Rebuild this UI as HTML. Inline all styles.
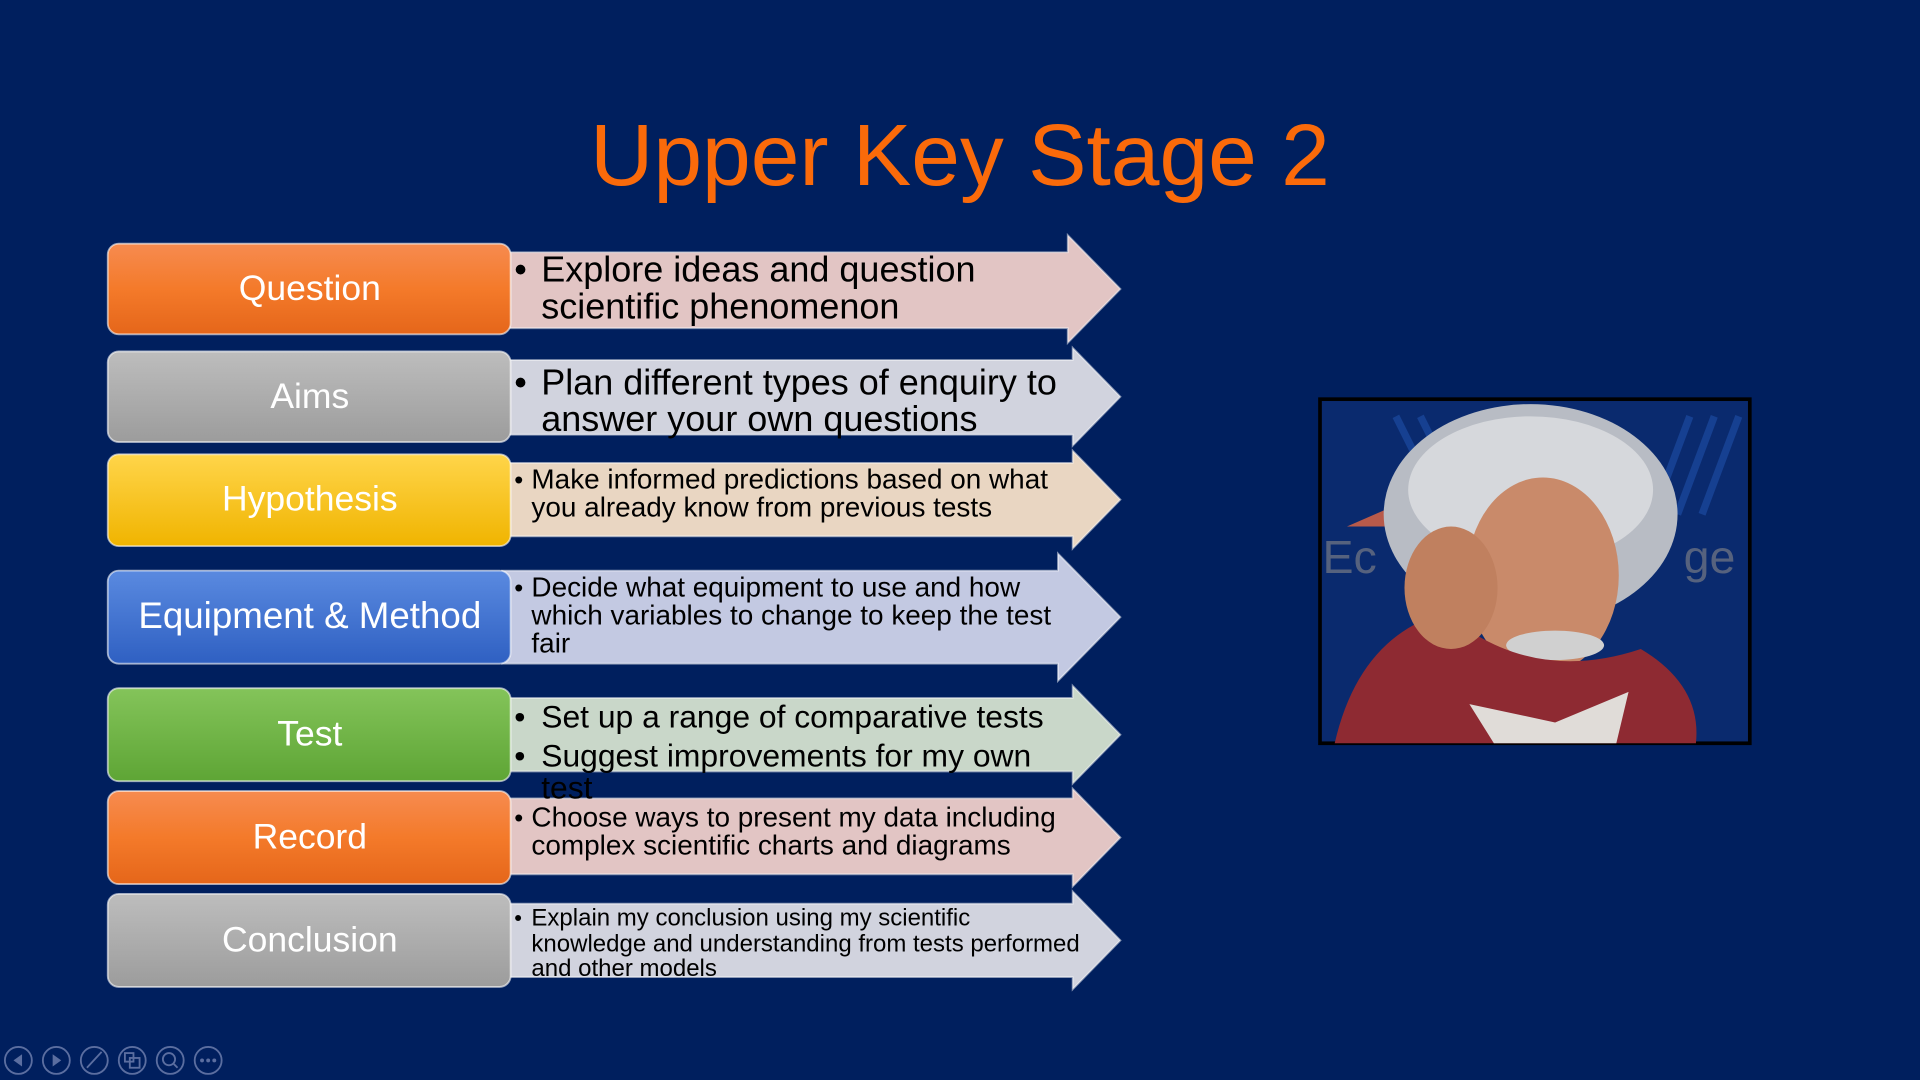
<!DOCTYPE html>
<html><head><meta charset="utf-8"><style>
html,body{margin:0;padding:0;background:#001f5e;overflow:hidden}
svg{display:block}
text{font-family:"Liberation Sans",Arial,sans-serif}
</style></head><body>
<svg width="1920" height="1080" viewBox="0 0 1568 882" xmlns="http://www.w3.org/2000/svg">
<defs>
<linearGradient id="go" x1="0" y1="0" x2="0" y2="1"><stop offset="0" stop-color="#f68b50"/><stop offset="0.5" stop-color="#f47a2a"/><stop offset="1" stop-color="#e5661a"/></linearGradient>
<linearGradient id="gg" x1="0" y1="0" x2="0" y2="1"><stop offset="0" stop-color="#bdbdbd"/><stop offset="1" stop-color="#9c9c9c"/></linearGradient>
<linearGradient id="gy" x1="0" y1="0" x2="0" y2="1"><stop offset="0" stop-color="#ffd54a"/><stop offset="1" stop-color="#f0b400"/></linearGradient>
<linearGradient id="gb" x1="0" y1="0" x2="0" y2="1"><stop offset="0" stop-color="#5a8ae0"/><stop offset="1" stop-color="#2f60c2"/></linearGradient>
<linearGradient id="gn" x1="0" y1="0" x2="0" y2="1"><stop offset="0" stop-color="#84c45a"/><stop offset="1" stop-color="#5ea535"/></linearGradient>
</defs>
<rect width="1568" height="882" fill="#001f5e"/>
<text x="784" y="151" text-anchor="middle" font-size="71.5" fill="#fa6a0a">Upper Key Stage 2</text>

<g stroke="#ffffff" stroke-opacity="0.5" stroke-width="1.5">
<polygon points="410,206 872,206 872,192 915,236 872,280 872,268 410,268" fill="#e2c5c4"/>
<polygon points="410,294 876,294 876,284 915,324 876,364 876,355 410,355" fill="#d1d3de"/>
<polygon points="410,378 876,378 876,368 915,408 876,448 876,438 410,438" fill="#e9d6c2"/>
<polygon points="410,466 864,466 864,452 915,504 864,556 864,542 410,542" fill="#c3c9e2"/>
<polygon points="410,570 876,570 876,560 915,600 876,640 876,630 410,630" fill="#c9d7c9"/>
<polygon points="410,652 876,652 876,644 915,684 876,724 876,714 410,714" fill="#e2c5c4"/>
<polygon points="410,738 876,738 876,728 915,768 876,808 876,798 410,798" fill="#d1d3de"/>
</g>

<g stroke="#ffffff" stroke-opacity="0.6" stroke-width="1.5">
<rect x="88" y="199" width="329" height="74" rx="9" fill="url(#go)"/>
<rect x="88" y="287" width="329" height="74" rx="9" fill="url(#gg)"/>
<rect x="88" y="371" width="329" height="75" rx="9" fill="url(#gy)"/>
<rect x="88" y="466" width="329" height="76" rx="9" fill="url(#gb)"/>
<rect x="88" y="562" width="329" height="76" rx="9" fill="url(#gn)"/>
<rect x="88" y="646" width="329" height="76" rx="9" fill="url(#go)"/>
<rect x="88" y="730" width="329" height="76" rx="9" fill="url(#gg)"/>
</g>
<g fill="#ffffff" font-size="29" text-anchor="middle">
<text x="253" y="245">Question</text>
<text x="253" y="333">Aims</text>
<text x="253" y="417">Hypothesis</text>
<text x="253" y="513" font-size="30">Equipment &amp; Method</text>
<text x="253" y="609">Test</text>
<text x="253" y="693">Record</text>
<text x="253" y="777">Conclusion</text>
</g>

<g fill="#000000">
<g font-size="29.4">
<text x="420" y="230">•</text><text x="442" y="230">Explore ideas and question</text>
<text x="442" y="260">scientific phenomenon</text>
<text x="420" y="322">•</text><text x="442" y="322">Plan different types of enquiry to</text>
<text x="442" y="352">answer your own questions</text>
</g>
<g font-size="26">
<text x="420" y="594">•</text><text x="442" y="594">Set up a range of comparative tests</text>
<text x="420" y="626">•</text><text x="442" y="626">Suggest improvements for my own</text>
<text x="442" y="652">test</text>
</g>
<g font-size="22.8">
<text x="420" y="399" font-size="21">•</text><text x="434" y="399">Make informed predictions based on what</text>
<text x="434" y="422">you already know from previous tests</text>
<text x="420" y="487" font-size="21">•</text><text x="434" y="487">Decide what equipment to use and how</text>
<text x="434" y="510">which variables to change to keep the test</text>
<text x="434" y="533">fair</text>
<text x="420" y="675" font-size="21">•</text><text x="434" y="675">Choose ways to present my data including</text>
<text x="434" y="698">complex scientific charts and diagrams</text>
</g>
<g font-size="19.6">
<text x="420" y="756" font-size="18">•</text><text x="434" y="756">Explain my conclusion using my scientific</text>
<text x="434" y="777">knowledge and understanding from tests performed</text>
<text x="434" y="797">and other models</text>
</g>
</g>

<g>
<rect x="1078" y="326" width="351" height="281" fill="#0a2a6e" stroke="#000" stroke-width="3"/>
<g stroke="#1c4aa0" stroke-width="6" opacity="0.7">
<line x1="1140" y1="340" x2="1170" y2="400"/><line x1="1160" y1="340" x2="1190" y2="400"/>
<line x1="1380" y1="340" x2="1350" y2="420"/><line x1="1400" y1="340" x2="1370" y2="420"/><line x1="1420" y1="340" x2="1390" y2="420"/>
</g>
<polygon points="1100,430 1180,395 1180,430" fill="#b85a4a"/>
<text x="1080" y="468" font-size="38" fill="#56627e">Ec</text>
<text x="1375" y="468" font-size="38" fill="#56627e">ge</text>
<ellipse cx="1250" cy="420" rx="120" ry="90" fill="#b8bcc4"/>
<ellipse cx="1250" cy="400" rx="100" ry="60" fill="#d6d8dc"/>
<ellipse cx="1260" cy="470" rx="62" ry="80" fill="#c98a6a"/>
<ellipse cx="1270" cy="527" rx="40" ry="12" fill="#d0d0d0"/>
<path d="M1090,607 Q1110,520 1180,500 Q1250,560 1340,530 Q1390,560 1385,607 Z" fill="#8e2a32"/>
<path d="M1200,575 L1270,590 L1330,565 L1320,607 L1220,607 Z" fill="#e0dcd8"/>
<ellipse cx="1185" cy="480" rx="38" ry="50" fill="#c0805f"/>
</g>

<g fill="none" stroke="#5b6ea0" stroke-width="1.5">
<circle cx="15" cy="866" r="11"/><circle cx="46" cy="866" r="11"/><circle cx="77" cy="866" r="11"/>
<circle cx="108" cy="866" r="11"/><circle cx="139" cy="866" r="11"/><circle cx="170" cy="866" r="11"/>
<line x1="71" y1="872" x2="83" y2="859"/>
<rect x="102" y="860" width="7" height="7"/><rect x="106" y="864" width="8" height="8"/>
<circle cx="138" cy="865" r="5"/><line x1="142" y1="869" x2="145" y2="872"/>
</g>
<g fill="#5b6ea0">
<polygon points="18,861 18,871 11,866"/><polygon points="43,861 43,871 50,866"/>
<circle cx="165" cy="866" r="1.6"/><circle cx="170" cy="866" r="1.6"/><circle cx="175" cy="866" r="1.6"/>
</g>
</svg>
</body></html>
